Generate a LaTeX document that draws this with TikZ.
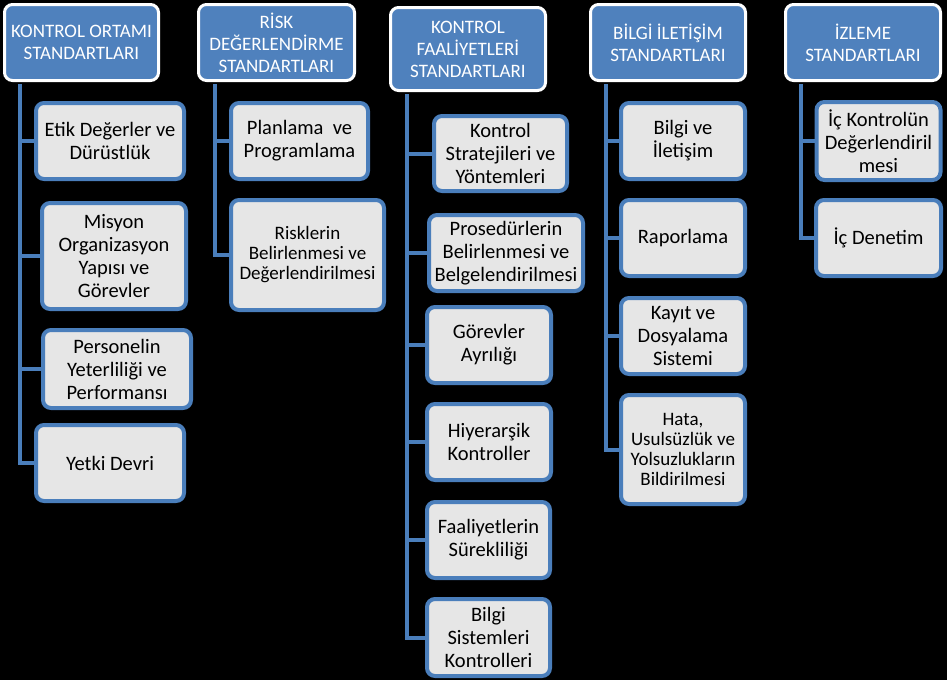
\documentclass[tikz,border=0pt]{standalone}
\usepackage{fontspec}
\setmainfont{Carlito}
\usetikzlibrary{backgrounds}
\definecolor{hblue}{HTML}{4F81BD}
\definecolor{lblue}{HTML}{4A7EBB}
\definecolor{cgray}{HTML}{E6E6E6}
\begin{document}
\begin{tikzpicture}[x=1pt,y=-1pt,
  head/.style={draw=white,line width=3pt,fill=hblue,rounded corners=8pt,
    text=white,align=center,font=\fontsize{19}{22}\selectfont,inner sep=0pt},
  child/.style={draw=lblue,line width=4pt,fill=cgray,rounded corners=8pt,
    text=black,align=center,font=\fontsize{20.5}{23}\selectfont,inner sep=0pt},
  smalltext/.style={font=\fontsize{19}{20}\selectfont},
  conn/.style={draw=lblue,line width=4pt}]
\useasboundingbox (0,0) rectangle (947,680);
% headers
\node[head,minimum width=154,minimum height=76] (h1) at (81.5,42.5) {KONTROL ORTAMI\\STANDARTLARI};
\node[head,minimum width=156,minimum height=76] (h2) at (276.5,42.5) {RİSK\\DEĞERLENDİRME\\STANDARTLARI};
\node[head,minimum width=155,minimum height=83] (h3) at (468,49) {KONTROL\\FAALİYETLERİ\\STANDARTLARI};
\node[head,minimum width=155,minimum height=76] (h4) at (668,42.5) {BİLGİ İLETİŞİM\\STANDARTLARI};
\node[head,minimum width=155,minimum height=76] (h5) at (863,42.5) {İZLEME\\STANDARTLARI};
% trunk coordinates
\coordinate (t1) at (20,84);
\coordinate (t2) at (215,84);
\coordinate (t3) at (407,94);
\coordinate (t4) at (606,84);
\coordinate (t5) at (801,84);
% column 1
\node[child,minimum width=148,minimum height=76] (c11) at (110,141) {Etik Değerler ve\\Dürüstlük};
\node[child,minimum width=144,minimum height=106] (c12) at (114,256) {Misyon\\Organizasyon\\Yapısı ve\\Görevler};
\node[child,minimum width=148,minimum height=78] (c13) at (117,369) {Personelin\\Yeterliliği ve\\Performansı};
\node[child,minimum width=148,minimum height=76] (c14) at (110,463) {Yetki Devri};
% column 2
\node[child,minimum width=137,minimum height=76] (c21) at (299.5,141) {Planlama\ \ ve\\Programlama};
\node[child,smalltext,minimum width=153,minimum height=110] (c22) at (307.5,255) {Risklerin\\Belirlenmesi ve\\Değerlendirilmesi};
% column 3
\node[child,minimum width=133,minimum height=75] (c31) at (500.5,153.5) {Kontrol\\Stratejileri ve\\Yöntemleri};
\node[child,minimum width=154,minimum height=76] (c32) at (506,253) {Prosedürlerin\\Belirlenmesi ve\\Belgelendirilmesi};
\node[child,minimum width=124,minimum height=76] (c33) at (489,345) {Görevler\\Ayrılığı};
\node[child,minimum width=124,minimum height=76] (c34) at (489,442) {Hiyerarşik\\Kontroller};
\node[child,minimum width=123,minimum height=76] (c35) at (488.5,540) {Faaliyetlerin\\Sürekliliği};
\node[child,minimum width=123,minimum height=77] (c36) at (488.5,637.5) {Bilgi\\Sistemleri\\Kontrolleri};
% column 4
\node[child,minimum width=124,minimum height=76] (c41) at (683,141) {Bilgi ve\\İletişim};
\node[child,minimum width=124,minimum height=76] (c42) at (683,238) {Raporlama};
\node[child,minimum width=124,minimum height=76] (c43) at (683,336) {Kayıt ve\\Dosyalama\\Sistemi};
\node[child,smalltext,minimum width=124,minimum height=109] (c44) at (683,449.5) {Hata,\\Usulsüzlük ve\\Yolsuzlukların\\Bildirilmesi};
% column 5
\node[child,minimum width=124,minimum height=78] (c51) at (878.5,141) {İç Kontrolün\\Değerlendiril\\mesi};
\node[child,minimum width=125,minimum height=76] (c52) at (878.5,238) {İç Denetim};
% background and connectors
\begin{pgfonlayer}{background}
\fill[black] (0,0) rectangle (947,680);
\foreach \t/\c in {t1/c11,t1/c12,t1/c13,t1/c14,t2/c21,t2/c22,t3/c31,t3/c32,t3/c33,t3/c34,t3/c35,t3/c36,t4/c41,t4/c42,t4/c43,t4/c44,t5/c51,t5/c52}
  \draw[conn] (\t) |- (\c.west);
\end{pgfonlayer}
\end{tikzpicture}
\end{document}
